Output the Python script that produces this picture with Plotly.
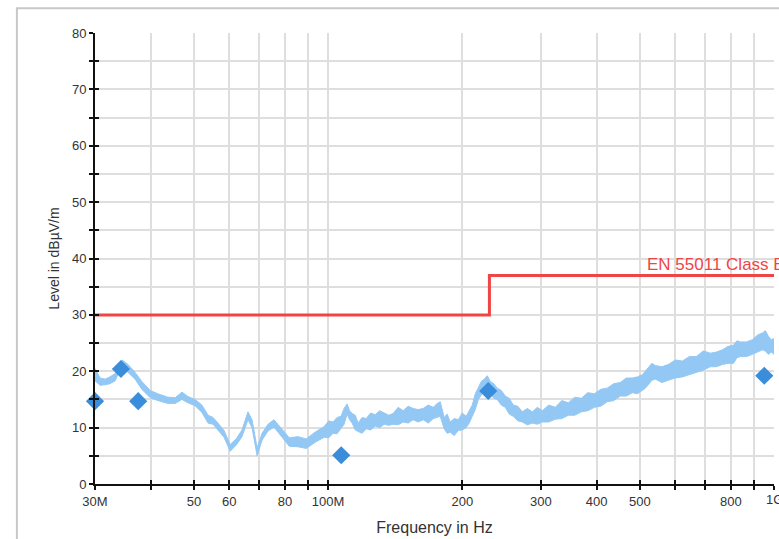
import math
import plotly.graph_objects as go

# Measurement scan envelope (frequency in MHz, level in dBµV/m)
trace_freq = [30.0, 30.8, 31.6, 32.4, 33.3, 33.8, 34.5, 35.6, 36.9, 38.2,
              39.9, 41.5, 43.7, 45.4, 47.0, 48.5, 50.3, 52.1, 53.8, 55.2,
              56.6, 58.4, 60.3, 62.2, 64.1, 66.1, 67.5, 69.3, 71.1, 73.3,
              75.6, 78.4, 81.8, 85.6, 89.3, 93.5,
              98.0, 100.3, 102.6, 104.7, 106.9, 108.6, 110.3, 111.7, 113.2, 115.0,
              116.8, 119.2, 121.7, 124.6, 127.5, 130.5, 133.6, 136.7, 139.9, 143.6,
              147.3, 151.2, 155.1, 159.2, 163.4, 167.7, 172.1, 175.2, 178.4, 182.1,
              184.9, 187.8, 191.8, 195.8, 199.9, 204.0, 207.2, 210.5, 213.8, 217.2,
              220.6, 224.0, 227.5, 231.0, 235.2, 239.5, 244.5, 249.6, 254.8, 260.2,
              266.3, 272.5, 279.7, 287.1, 294.6, 302.2, 312.5, 323.2, 334.3, 345.7,
              357.5, 369.7, 382.3, 395.4, 408.8, 422.7, 437.2, 452.1, 466.4, 481.2,
              493.8, 506.8, 514.6, 522.6, 532.2, 542.0, 560.4, 579.4, 600.8, 623.0,
              645.9, 669.6, 694.2, 719.7, 742.5, 766.0, 788.1, 810.9, 825.7, 840.8,
              867.2, 894.5, 917.9, 941.9, 956.6, 971.6, 985.7, 1000.0]
trace_max = [20.5, 18.8, 18.6, 19.0, 19.6, 20.8, 22.0, 21.2, 19.8, 18.2,
             16.6, 16.0, 15.4, 15.3, 16.3, 15.5, 15.0, 14.0, 12.2, 11.8,
             10.8, 9.5, 7.0, 8.0, 9.6, 12.8, 11.4, 6.4, 9.0, 10.6,
             11.4, 10.0, 8.2, 8.4, 8.0, 9.2,
             10.2, 11.2, 11.0, 11.8, 12.0, 13.4, 14.2, 13.0, 12.5, 12.2,
             10.8, 11.8, 11.6, 12.6, 12.3, 13.0, 12.6, 12.2, 12.5, 13.6,
             13.0, 13.8, 13.4, 13.2, 13.4, 14.0, 13.6, 14.2, 14.6, 11.8,
             12.4, 11.0, 11.6, 11.4, 12.6, 12.0, 13.0, 14.0, 16.0, 17.0,
             18.2, 18.6, 19.2, 18.2, 17.8, 17.0, 16.6, 15.6, 15.2, 14.0,
             13.8, 12.8, 13.4, 12.8, 13.6, 13.0, 14.0, 13.6, 14.8, 14.4,
             15.4, 15.2, 16.2, 16.0, 16.8, 17.0, 17.8, 18.0, 18.8, 18.8,
             19.0, 19.4, 20.0, 20.6, 21.4, 21.0, 20.8, 21.2, 22.0, 21.8,
             22.6, 22.6, 23.6, 23.2, 23.4, 23.8, 24.4, 24.6, 25.4, 25.2,
             25.2, 25.6, 26.4, 26.8, 27.2, 26.2, 25.6, 25.8]
trace_min = [18.3, 17.5, 17.6, 17.8, 18.3, 19.5, 20.8, 19.8, 18.6, 16.8,
             15.3, 14.8, 14.3, 14.3, 15.0, 14.4, 13.9, 12.7, 10.8, 10.6,
             9.6, 8.3, 5.8, 6.9, 8.4, 11.4, 10.0, 5.0, 7.8, 9.4,
             10.1, 8.6, 6.7, 6.6, 6.3, 7.4,
             8.3, 8.2, 9.0, 8.9, 10.0, 10.6, 12.4, 11.4, 10.8, 9.6,
             9.3, 9.0, 9.8, 9.6, 10.3, 10.0, 10.6, 10.4, 10.6, 10.5,
             11.0, 10.8, 11.4, 11.0, 11.4, 10.8, 11.6, 11.8, 12.0, 9.8,
             9.0, 9.2, 8.6, 9.5, 9.6, 10.0, 10.8, 12.0, 13.2, 15.0,
             15.8, 16.6, 16.4, 16.2, 15.2, 15.0, 14.0, 13.6, 12.4, 12.0,
             11.2, 11.0, 10.5, 10.8, 10.6, 11.0, 11.0, 11.5, 11.6, 12.2,
             12.2, 12.8, 13.0, 13.6, 13.8, 14.6, 14.8, 15.6, 15.6, 16.2,
             16.0, 16.6, 17.0, 17.6, 18.4, 18.6, 18.0, 18.4, 18.8, 19.0,
             19.4, 19.8, 20.2, 20.8, 20.8, 21.2, 21.4, 21.4, 22.4, 22.6,
             22.6, 23.0, 23.4, 23.8, 23.6, 23.0, 23.4, 23.0]

# Final (quasi-peak) measurement points
peak_freq = [30.0, 34.3, 37.5, 107.0, 228.6, 951.0]
peak_level = [14.7, 20.4, 14.7, 5.1, 16.5, 19.2]

# EN 55011 Class B limit
limit_freq = [30.0, 230.0, 230.0, 1000.0]
limit_level = [30.0, 30.0, 37.0, 37.0]
limit_name = "EN 55011 Class B"

x_tickvals = [30, 40, 50, 60, 70, 80, 90, 100, 200, 300, 400, 500, 600, 700, 800, 900, 1000]
x_ticktext = ["30M", "", "50", "60", "", "80", "", "100M", "200", "300", "400", "500",
              "", "", "800", "", ""]
x_end_label = "1G"
y_tickvals = list(range(0, 85, 5))
y_ticktext = [str(v) if v % 10 == 0 else "" for v in y_tickvals]

FONT = "Liberation Sans, Arial, sans-serif"
TRACE_COLOR = "#93c8f5"
PEAK_COLOR = "#3a8ddb"
LIMIT_COLOR = "#f04545"
AXIS_COLOR = "#111111"
GRID_COLOR = "#dedede"
TEXT_COLOR = "#333333"
TICK_SIZE = 13

fig = go.Figure()

fig.add_trace(go.Scatter(x=trace_freq, y=trace_min, mode="lines",
                         line=dict(color=TRACE_COLOR, width=1),
                         hoverinfo="skip", showlegend=False))
fig.add_trace(go.Scatter(x=trace_freq, y=trace_max, mode="lines",
                         line=dict(color=TRACE_COLOR, width=1),
                         fill="tonexty", fillcolor=TRACE_COLOR,
                         hoverinfo="skip", showlegend=False))
fig.add_trace(go.Scatter(x=limit_freq, y=limit_level, mode="lines",
                         line=dict(color=LIMIT_COLOR, width=3),
                         name=limit_name, showlegend=False))
fig.add_trace(go.Scatter(x=peak_freq, y=peak_level, mode="markers",
                         marker=dict(symbol="diamond", size=14, color=PEAK_COLOR),
                         showlegend=False, cliponaxis=False))
# carrier trace for the inward tick overlay axes
fig.add_trace(go.Scatter(x=[30], y=[0], xaxis="x2", yaxis="y2", mode="lines",
                         line=dict(width=0), hoverinfo="skip", showlegend=False))

xr = [math.log10(30), math.log10(1000)]

fig.update_layout(
    width=779, height=539,
    margin=dict(l=95, r=5, t=33, b=55),
    paper_bgcolor="white", plot_bgcolor="white",
    font=dict(family=FONT, size=12, color=TEXT_COLOR),
    xaxis=dict(type="log", range=xr, tickmode="array",
               tickvals=x_tickvals, ticktext=x_ticktext,
               ticks="outside", ticklen=4, tickwidth=2, tickcolor=AXIS_COLOR,
               showline=True, linecolor=AXIS_COLOR, linewidth=2,
               showgrid=True, gridcolor=GRID_COLOR, gridwidth=2,
               zeroline=False,
               tickfont=dict(size=TICK_SIZE, color=TEXT_COLOR),
               title=dict(text="Frequency in Hz", font=dict(size=16, color=TEXT_COLOR),
                          standoff=14)),
    yaxis=dict(range=[0, 80], tickmode="array",
               tickvals=y_tickvals, ticktext=y_ticktext,
               ticks="outside", ticklen=4, tickwidth=2, tickcolor=AXIS_COLOR,
               showline=True, linecolor=AXIS_COLOR, linewidth=2,
               showgrid=True, gridcolor=GRID_COLOR, gridwidth=2,
               zeroline=False,
               tickfont=dict(size=TICK_SIZE, color=TEXT_COLOR),
               title=dict(text="Level in dBµV/m", font=dict(size=14, color=TEXT_COLOR),
                          standoff=9)),
    xaxis2=dict(type="log", range=xr, overlaying="x", anchor="y", side="bottom",
                tickmode="array", tickvals=x_tickvals, ticks="inside", ticklen=4,
                tickwidth=2, tickcolor=AXIS_COLOR, showticklabels=False,
                showgrid=False, showline=False, zeroline=False),
    yaxis2=dict(range=[0, 80], overlaying="y", anchor="x", side="left",
                tickmode="array", tickvals=y_tickvals, ticks="inside", ticklen=4,
                tickwidth=2, tickcolor=AXIS_COLOR, showticklabels=False,
                showgrid=False, showline=False, zeroline=False),
    showlegend=False,
)

# last x tick label, allowed to run past the right edge
fig.add_annotation(x=math.log10(x_tickvals[-1]), xref="x", xanchor="center",
                   y=0, yref="paper", yanchor="top", yshift=-6,
                   text=x_end_label, showarrow=False,
                   font=dict(family=FONT, size=TICK_SIZE, color=TEXT_COLOR))

# limit line label
fig.add_annotation(x=0.81, xref="paper", xanchor="left",
                   y=37, yref="y", yanchor="bottom", yshift=-1,
                   text=limit_name, showarrow=False,
                   font=dict(family=FONT, size=17, color=LIMIT_COLOR))

# outer panel frame
fig.add_shape(type="rect", xref="paper", yref="paper",
              x0=-0.115, x1=1.1, y0=-0.2, y1=1.055,
              line=dict(color="#c8c8c8", width=2), layer="below")

fig.write_html("out.html")
